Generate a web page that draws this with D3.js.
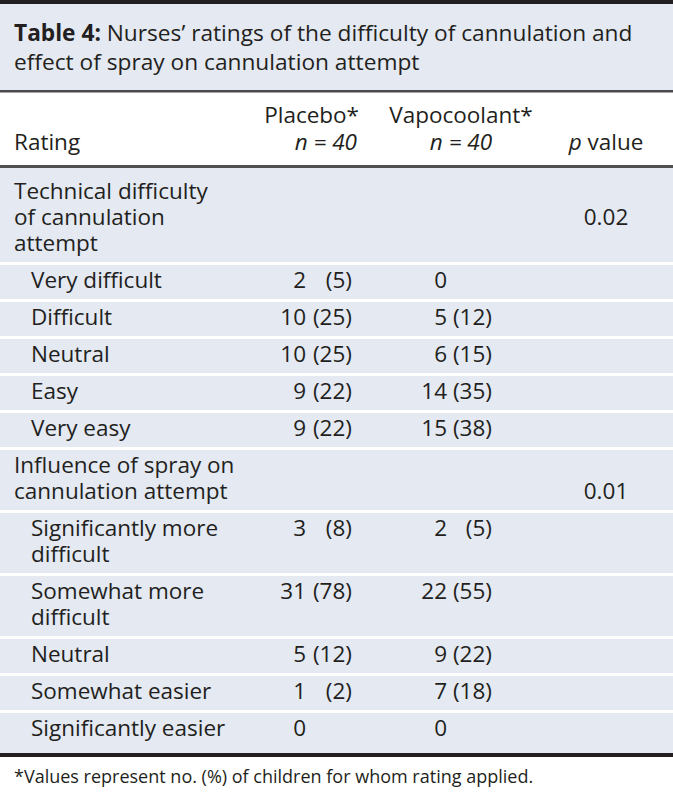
<!DOCTYPE html>
<html>
<head>
<meta charset="utf-8">
<script src="https://cdn.jsdelivr.net/npm/d3@7"></script>
<style>
  body { margin: 0; background: #fff; }
  svg text { font-family: "Open Sans", sans-serif; fill: #231f20; }
</style>
</head>
<body>
<div id="chart"></div>
<script>
/**
 * TABLE CONTENT
 * */
const titleBold = "Table 4:";
const titleLines = [" Nurses’ ratings of the difficulty of cannulation and", "effect of spray on cannulation attempt"];
const footnote = "*Values represent no. (%) of children for whom rating applied.";

const columnHeads = ["Placebo*", "Vapocoolant*"];
const groupSizes = [40, 40];

// row labels, broken into lines as printed
const groupLabels = [
  ["Technical difficulty", "of cannulation", "attempt"],
  ["Influence of spray on", "cannulation attempt"]
];
const pValues = ["0.02", "0.01"];

const difficultyLabels = [["Very difficult"], ["Difficult"], ["Neutral"], ["Easy"], ["Very easy"]];
const difficultyPlacebo = [2, 10, 10, 9, 9];
const difficultyPlaceboPct = [5, 25, 25, 22, 22];
const difficultyVapo = [0, 5, 6, 14, 15];
const difficultyVapoPct = [null, 12, 15, 35, 38];

const sprayLabels = [["Significantly more", "difficult"], ["Somewhat more", "difficult"], ["Neutral"], ["Somewhat easier"], ["Significantly easier"]];
const sprayPlacebo = [3, 31, 5, 1, 0];
const sprayPlaceboPct = [8, 78, 12, 2, null];
const sprayVapo = [2, 22, 9, 7, 0];
const sprayVapoPct = [5, 55, 22, 18, null];

/**
 * CONSTANTS
 * */
const width = 673, height = 799;
const ink = "#231f20", tint = "#e4e9f2";
const fontSize = 22.5;
const lineStep = 26, rowStep = 37;

// column anchors
const x = d3.scaleOrdinal()
  .domain(["label", "sub", "placeboN", "placeboPct", "vapoN", "vapoPct", "placeboHead", "vapoHead", "p"])
  .range([14, 31, 306, 352, 447, 492, 359, 461, 606]);

// build rows from the arrays
function subRows(labels, pn, pp, vn, vp) {
  return labels.map((lines, i) => ({
    type: "sub", lines,
    cells: [{ n: pn[i], pct: pp[i], col: "placebo" }, { n: vn[i], pct: vp[i], col: "vapo" }]
  }));
}
const rows = [
  { type: "group", lines: groupLabels[0], p: pValues[0] },
  ...subRows(difficultyLabels, difficultyPlacebo, difficultyPlaceboPct, difficultyVapo, difficultyVapoPct),
  { type: "group", lines: groupLabels[1], p: pValues[1] },
  ...subRows(sprayLabels, sprayPlacebo, sprayPlaceboPct, sprayVapo, sprayVapoPct)
];

// vertical layout: first line of each row
let cursor = 191;
rows.forEach(r => {
  r.y = cursor;
  r.last = cursor + (r.lines.length - 1) * lineStep;
  cursor = r.last + rowStep;
});
const lastRow = rows[rows.length - 1];
const bodyBottom = lastRow.last + 25;

/**
 * DRAW
 * */
const svg = d3.select("#chart")
  .append("svg")
  .attr("width", width)
  .attr("height", height);

// backgrounds and rules
svg.append("rect").attr("x", 0).attr("y", 0).attr("width", width).attr("height", 4).attr("fill", ink);
svg.append("rect").attr("x", 0).attr("y", 4).attr("width", width).attr("height", 86).attr("fill", tint);
svg.append("rect").attr("x", 0).attr("y", 90).attr("width", width).attr("height", 2.5).attr("fill", "#4b4b4d");
svg.append("rect").attr("x", 0).attr("y", 168).attr("width", width).attr("height", bodyBottom - 168).attr("fill", tint);
svg.append("rect").attr("x", 0).attr("y", 165).attr("width", width).attr("height", 3).attr("fill", "#4f4f51");
svg.append("rect").attr("x", 0).attr("y", bodyBottom).attr("width", width).attr("height", 4).attr("fill", ink);

// white separators between rows
svg.selectAll("rect.sep")
  .data(rows.slice(0, -1))
  .join("rect")
  .attr("class", "sep")
  .attr("x", 0)
  .attr("y", d => d.last + 19)
  .attr("width", width)
  .attr("height", 3)
  .attr("fill", "#fff");

// title
const title = svg.append("g").style("font-size", "22.7px");
const t1 = title.append("text").attr("x", 14).attr("y", 33).attr("dy", "0.35em");
t1.append("tspan").attr("font-weight", 700).text(titleBold);
t1.append("tspan").text(titleLines[0]);
title.append("text").attr("x", 14).attr("y", 62).attr("dy", "0.35em").text(titleLines[1]);

// header
const head = svg.append("g").style("font-size", fontSize + "px");
head.append("text").attr("x", x("label")).attr("y", 142).attr("dy", "0.35em").text("Rating");
head.append("text").attr("x", x("placeboHead")).attr("y", 115).attr("dy", "0.35em")
  .attr("text-anchor", "end").text(columnHeads[0]);
head.append("text").attr("x", x("placeboHead") - 2).attr("y", 142).attr("dy", "0.35em")
  .attr("text-anchor", "end").attr("font-style", "italic").text(`n = ${groupSizes[0]}`);
head.append("text").attr("x", x("vapoHead")).attr("y", 115).attr("dy", "0.35em")
  .attr("text-anchor", "middle").text(columnHeads[1]);
head.append("text").attr("x", x("vapoHead")).attr("y", 142).attr("dy", "0.35em")
  .attr("text-anchor", "middle").attr("font-style", "italic").text(`n = ${groupSizes[1]}`);
const pHead = head.append("text").attr("x", x("p")).attr("y", 142).attr("dy", "0.35em").attr("text-anchor", "middle");
pHead.append("tspan").attr("font-style", "italic").text("p");
pHead.append("tspan").text(" value");

// body rows
const body = svg.append("g").style("font-size", fontSize + "px");
const rowG = body.selectAll("g.row")
  .data(rows)
  .join("g")
  .attr("class", "row");

rowG.selectAll("text.label")
  .data(d => d.lines.map((line, i) => ({ line, y: d.y + i * lineStep, type: d.type })))
  .join("text")
  .attr("class", "label")
  .attr("x", d => x(d.type === "group" ? "label" : "sub"))
  .attr("y", d => d.y)
  .attr("dy", "0.35em")
  .text(d => d.line);

// p values sit on the second line of the group label
rowG.filter(d => d.type === "group")
  .append("text")
  .attr("x", x("p"))
  .attr("y", d => d.y + lineStep)
  .attr("dy", "0.35em")
  .attr("text-anchor", "middle")
  .text(d => d.p);

// counts and percentages
const cell = rowG.filter(d => d.type === "sub")
  .selectAll("g.cell")
  .data(d => d.cells.map(c => ({ ...c, y: d.y })))
  .join("g")
  .attr("class", "cell");

cell.append("text")
  .attr("x", d => x(d.col + "N"))
  .attr("y", d => d.y)
  .attr("dy", "0.35em")
  .attr("text-anchor", "end")
  .text(d => d.n);

cell.filter(d => d.pct !== null)
  .append("text")
  .attr("x", d => x(d.col + "Pct"))
  .attr("y", d => d.y)
  .attr("dy", "0.35em")
  .attr("text-anchor", "end")
  .text(d => `(${d.pct})`);

// footnote
svg.append("text")
  .attr("x", 14)
  .attr("y", 777)
  .attr("dy", "0.35em")
  .style("font-size", "18px")
  .text(footnote);
</script>
</body>
</html>
